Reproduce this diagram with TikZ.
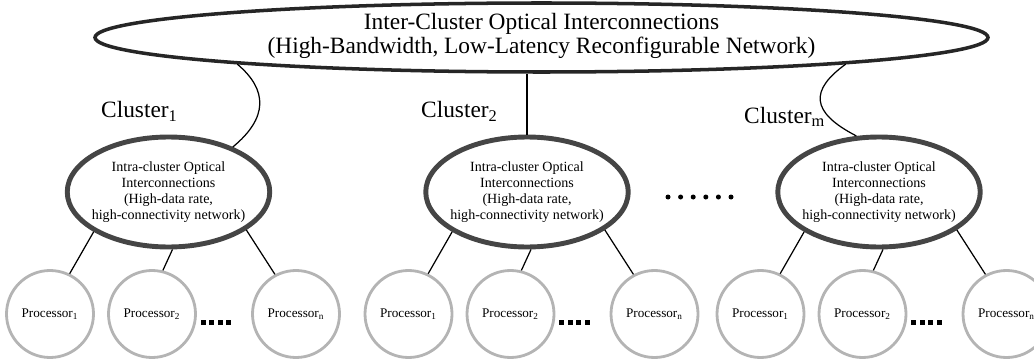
\documentclass[tikz,border=0pt]{standalone}
\usepackage{fontspec}
\setmainfont{Liberation Serif}
\usepackage{tikz}
\usetikzlibrary{shapes.geometric}
\usepackage{xcolor}
\definecolor{rimgray}{HTML}{454545}
\definecolor{ringgray}{HTML}{B4B4B4}

\begin{document}
\begin{tikzpicture}[
    outerring/.style={ellipse,draw=black!85,line width=2pt,minimum width=17.86cm,minimum height=1.38cm,inner sep=0pt},
    innerring/.style={ellipse,draw=rimgray,line width=2.8pt,minimum width=4.05cm,minimum height=2.2cm,inner sep=0pt},
    proc/.style={circle,draw=ringgray,line width=1.6pt,minimum size=1.74cm,inner sep=0pt,font=\fontsize{7.5}{9}\selectfont},
    link/.style={line width=0.7pt}]
        \useasboundingbox (0,0) rectangle (20.68,7.24);
        % backbone
        \node[outerring] (inter) at (10.83,6.49) {};
        \node[align=center,font=\fontsize{13.3}{14}\selectfont] (intertxt) at (10.83,6.52)
             {Inter-Cluster Optical Interconnections\\(High-Bandwidth, Low-Latency Reconfigurable Network)};
        % clusters
        \foreach \k/\x/\lx/\ly in {1/3.37/1.90/4.88, 2/10.54/8.30/4.88, m/17.58/14.76/4.78} {
          \node[innerring] (clu\k) at (\x,3.40) {};
          \node[align=center,font=\fontsize{8}{9.2}\selectfont] (clutxt\k) at (clu\k)
               {Intra-cluster Optical\\Interconnections\\(High-data rate,\\high-connectivity network)};
          \node[anchor=base west,font=\fontsize{13.3}{14}\selectfont] (lab\k) at (\lx,\ly) {Cluster\textsubscript{\k}};
          \node[proc] (proc\k-1) at (\x-2.37,0.96) {Processor\textsubscript{1}};
          \node[proc] (proc\k-2) at (\x-0.33,0.96) {Processor\textsubscript{2}};
          \node[proc] (proc\k-n) at (\x+2.55,0.96) {Processor\textsubscript{n}};
          \foreach \d in {0,...,3} \fill (\x+0.645+\d*0.17,0.75) rectangle +(0.1,0.1);
          % links to processors
          \draw[link] (clu\k.208) -- (proc\k-1.64);
          \draw[link] (clu\k.274) -- (proc\k-2.76);
          \draw[link] (clu\k.334) -- (proc\k-n.118);
        }
        \foreach \d in {0,...,5} \fill (13.36+\d*0.252,3.30) circle (0.05);
        % links to backbone
        \draw[link] (inter.185) .. controls (5.36,5.44) and (5.36,4.88) .. (clu1.35);
        \draw[link] (clu2.north) -- (clu2.north |- inter.south);
        \draw[link] (inter.355) .. controls (16.2,5.44) and (16.2,5.0) .. (clum.112);
\end{tikzpicture}
\end{document}
